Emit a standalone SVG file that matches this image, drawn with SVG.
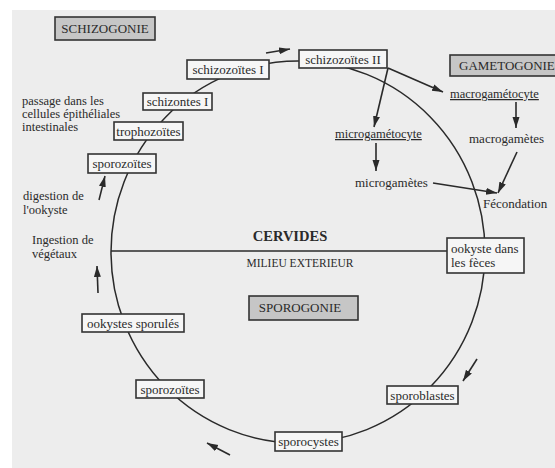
<svg xmlns="http://www.w3.org/2000/svg" width="555" height="468" viewBox="0 0 555 468">
<defs>
<marker id="ah" markerUnits="userSpaceOnUse" markerWidth="12" markerHeight="8" refX="11" refY="3.5" orient="auto">
<path d="M0,0 L11,3.5 L0,7 z" fill="#2a2a2a"/>
</marker>
</defs>
<style>
text{font-family:"Liberation Serif","Times New Roman",serif;font-size:13px;fill:#2a2a2a}
.box{fill:#f6f6f6;stroke:#333;stroke-width:1.6}
.phase{fill:#c6c6c6;stroke:#333;stroke-width:1.6}
.c{text-anchor:middle}
.ln{fill:none;stroke:#2a2a2a;stroke-width:1.5}
.ar{fill:none;stroke:#2a2a2a;stroke-width:1.6;marker-end:url(#ah)}
.u{text-decoration:underline;font-size:12.5px}
.lab{font-size:12.5px}
</style>
<rect width="555" height="468" fill="#ffffff"/>
<rect x="12" y="10" width="543" height="458" fill="#ededed"/>

<g id="connectors">
<ellipse class="ln" cx="298" cy="252" rx="187" ry="191"/>
<line class="ln" x1="111" y1="251" x2="447" y2="251"/>
<line class="ar" x1="266" y1="53" x2="290" y2="49"/>
<line class="ar" x1="388" y1="68" x2="374" y2="127"/>
<line class="ar" x1="388" y1="68" x2="443" y2="92"/>
<line class="ar" x1="376" y1="143" x2="376" y2="171"/>
<line class="ar" x1="433" y1="183" x2="497" y2="193"/>
<line class="ar" x1="516" y1="102" x2="516" y2="128"/>
<line class="ar" x1="517" y1="152" x2="498" y2="193"/>
<line class="ar" x1="99" y1="200" x2="105" y2="176"/>
<line class="ar" x1="98" y1="293" x2="97" y2="266"/>
<line class="ar" x1="477" y1="359" x2="463" y2="381"/>
<line class="ar" x1="230" y1="455" x2="207" y2="443"/>
</g>

<g id="schizogonie"><rect class="phase" x="55" y="17" width="100" height="23"/><text class="c" x="105" y="33">SCHIZOGONIE</text></g>
<g id="gametogonie"><rect class="phase" x="450" y="55" width="108" height="21"/><text x="459" y="70">GAMETOGONIE</text></g>
<g id="sporogonie"><rect class="phase" x="249" y="296" width="109" height="24"/><text class="c" x="300" y="312">SPOROGONIE</text></g>

<g id="schizozoites1"><rect class="box" x="187" y="60" width="82" height="19"/><text class="c" x="228" y="74">schizozoïtes I</text></g>
<g id="schizozoites2"><rect class="box" x="299" y="50" width="88" height="18"/><text class="c" x="343" y="63.5">schizozoïtes II</text></g>
<g id="schizontes1"><rect class="box" x="143" y="93" width="69" height="17"/><text class="c" x="177.5" y="106">schizontes I</text></g>
<g id="trophozoites"><rect class="box" x="114" y="122" width="69" height="18"/><text class="c" x="148.5" y="135.5">trophozoïtes</text></g>
<g id="sporozoites1"><rect class="box" x="88" y="154" width="68" height="19"/><text class="c" x="122" y="168">sporozoïtes</text></g>
<g id="ookyste"><rect class="box" x="447" y="238" width="77" height="35"/><text x="451" y="253">ookyste dans</text><text x="451" y="267">les fèces</text></g>
<g id="sporoblastes"><rect class="box" x="387" y="386" width="71" height="18"/><text class="c" x="422.5" y="399.5">sporoblastes</text></g>
<g id="sporocystes"><rect class="box" x="275" y="432" width="67" height="19"/><text class="c" x="308.5" y="446">sporocystes</text></g>
<g id="sporozoites2"><rect class="box" x="136" y="380" width="68" height="18"/><text class="c" x="170" y="393.5">sporozoïtes</text></g>
<g id="ookystes-sporules"><rect class="box" x="82" y="314" width="102" height="18"/><text class="c" x="133" y="327.5">ookystes sporulés</text></g>

<g id="macrogametocyte"><text class="u" x="450" y="98">macrogamétocyte</text></g>
<g id="microgametocyte"><text class="u" x="335" y="138">microgamétocyte</text></g>
<g id="macrogametes"><text x="469" y="143">macrogamètes</text></g>
<g id="microgametes"><text x="355" y="187">microgamètes</text></g>
<g id="fecondation"><text x="483" y="208">Fécondation</text></g>

<g id="cervides"><text class="c" x="290" y="241" style="font-weight:bold;font-size:14.5px">CERVIDES</text></g>
<g id="milieu"><text class="c" x="300" y="267" style="font-size:11.5px">MILIEU EXTERIEUR</text></g>

<g id="labels">
<text class="lab" x="22" y="105">passage dans les</text>
<text class="lab" x="22" y="118">cellules épithéliales</text>
<text class="lab" x="22" y="131">intestinales</text>
<text class="lab" x="23" y="200">digestion de</text>
<text class="lab" x="23" y="213.5">l'ookyste</text>
<text class="lab" x="32" y="244">Ingestion de</text>
<text class="lab" x="32" y="257.5">végétaux</text>
</g>
</svg>
